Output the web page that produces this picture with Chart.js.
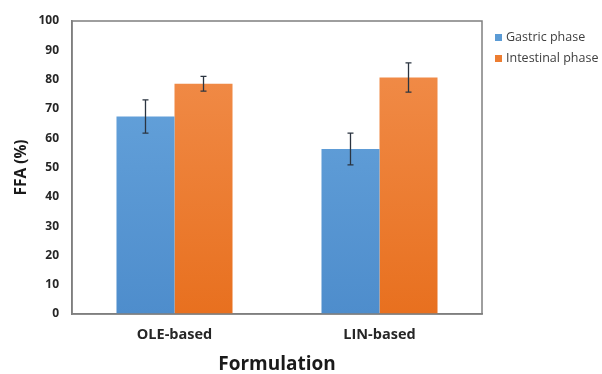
<!DOCTYPE html>
<html><head><meta charset="utf-8">
<script src="https://cdn.jsdelivr.net/npm/chart.js@4.4.1/dist/chart.umd.min.js"></script>
<style>html,body{margin:0;padding:0;background:#fff;}#wrap{width:602px;height:374px;}</style>
</head><body><div id="wrap"><canvas id="c" width="602" height="374"></canvas></div>
<script>
const categories = ["OLE-based", "LIN-based"];
const seriesNames = ["Gastric phase", "Intestinal phase"];
const gastric = [67.4, 56.3];
const gastricErr = [5.7, 5.4];
const intestinal = [78.6, 80.7];
const intestinalErr = [2.5, 5.0];
const yTicks = [0, 10, 20, 30, 40, 50, 60, 70, 80, 90, 100];
const legendColors = ['#5b9bd5', '#ed7d31'];

const errors = [gastricErr, intestinalErr];

const errorBarPlugin = {
  id: 'errorBars',
  afterDatasetsDraw(chart) {
    const ctx = chart.ctx;
    const y = chart.scales.y;
    ctx.save();
    ctx.strokeStyle = '#2b3440';
    ctx.lineWidth = 1.3;
    chart.data.datasets.forEach((ds, di) => {
      const meta = chart.getDatasetMeta(di);
      meta.data.forEach((bar, i) => {
        const v = ds.data[i], e = errors[di][i];
        const yt = y.getPixelForValue(v + e), yb = y.getPixelForValue(v - e);
        const x = bar.x;
        ctx.beginPath();
        ctx.moveTo(x, yt); ctx.lineTo(x, yb);
        ctx.moveTo(x - 3, yt); ctx.lineTo(x + 3, yt);
        ctx.moveTo(x - 3, yb); ctx.lineTo(x + 3, yb);
        ctx.stroke();
      });
    });
    ctx.restore();
  }
};

const boxPlugin = {
  id: 'box',
  afterDraw(chart) {
    const a = chart.chartArea, ctx = chart.ctx;
    ctx.save();
    ctx.strokeStyle = '#7f7f7f';
    ctx.lineWidth = 1.5;
    ctx.strokeRect(a.left, a.top, a.right - a.left, a.bottom - a.top);
    // legend
    ctx.font = '12.5px "Open Sans"';
    ctx.textBaseline = 'middle';
    ctx.textAlign = 'left';
    const lx = a.right + 13;
    seriesNames.forEach((name, i) => {
      const cy = a.top + 16.5 + i * 21;
      ctx.fillStyle = legendColors[i];
      ctx.fillRect(lx, cy - 3.5, 7, 7);
      ctx.fillStyle = '#404040';
      ctx.fillText(name, lx + 11, cy);
    });
    ctx.restore();
  }
};

function grad(ctxc, top, bottom) {
  const chart = ctxc.chart;
  const a = chart.chartArea;
  if (!a) return bottom;
  const g = chart.ctx.createLinearGradient(0, a.top, 0, a.bottom);
  g.addColorStop(0, top);
  g.addColorStop(1, bottom);
  return g;
}

new Chart(document.getElementById('c'), {
  type: 'bar',
  data: {
    labels: categories,
    datasets: [
      { label: seriesNames[0], data: gastric,
        backgroundColor: c => grad(c, '#6aa7de', '#4e8dcc'),
        borderWidth: 0, categoryPercentage: 0.566, barPercentage: 1 },
      { label: seriesNames[1], data: intestinal,
        backgroundColor: c => grad(c, '#f2904f', '#e8701f'),
        borderWidth: 0, categoryPercentage: 0.566, barPercentage: 1 }
    ]
  },
  plugins: [errorBarPlugin, boxPlugin],
  options: {
    responsive: false,
    animation: false,
    devicePixelRatio: 1,
    layout: { padding: { left: 0, right: 120, top: 21, bottom: 0 } },
    plugins: {
      legend: { display: false },
      tooltip: { enabled: false }
    },
    scales: {
      x: {
        grid: { display: false, drawTicks: false },
        border: { display: true, color: '#7f7f7f', width: 1.5 },
        ticks: { color: '#262626', font: { family: 'Open Sans', size: 14.5, weight: 'bold' }, padding: 12 },
        title: { display: true, text: 'Formulation', color: '#1a1a1a',
          font: { family: 'Open Sans', size: 19, weight: 'bold', lineHeight: 1 }, padding: { top: 0, bottom: 0 } },
        afterFit(s) { s.height = 374 - 314; }
      },
      y: {
        min: 0, max: 100,
        afterBuildTicks(s) { s.ticks = yTicks.map(v => ({ value: v })); },
        grid: { display: false, drawTicks: false },
        border: { display: true, color: '#7f7f7f', width: 1.5 },
        ticks: { color: '#262626', font: { family: 'Open Sans', size: 12, weight: 'bold' }, padding: 13 },
        title: { display: true, text: 'FFA (%)', color: '#1a1a1a',
          font: { family: 'Open Sans', size: 15.5, weight: 'bold', lineHeight: 1 }, padding: { top: 14, bottom: 0 } },
        afterFit(s) { s.width = 72; }
      }
    }
  }
});
</script></body></html>
